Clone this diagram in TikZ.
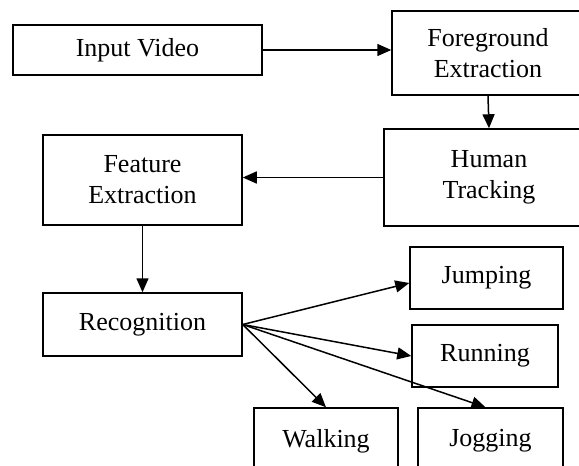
\documentclass[tikz,border=0pt]{standalone}
\usepackage{fontspec}
\setmainfont{Liberation Serif}
\usetikzlibrary{arrows.meta}

\begin{document}
\begin{tikzpicture}
[every node/.style={inner sep=0pt, align=center, font=\fontsize{26}{31}\selectfont},
 >={Triangle[length=14pt, width=12pt]}]
\useasboundingbox (0pt, 0pt) rectangle (579pt, -466pt);
\clip (0pt, 0pt) rectangle (579pt, -466pt);
\node (input) [rectangle, minimum width=249pt, minimum height=50pt, line width=1.5pt, draw=black] at (137.5pt, -50.0pt) {Input Video};
\node (fore) [rectangle, minimum width=192pt, minimum height=84pt, line width=1.5pt, draw=black] at (488.0pt, -53.0pt) {Foreground\\Extraction};
\node (human) [rectangle, minimum width=210pt, minimum height=97pt, line width=1.5pt, draw=black] at (489.0pt, -177.5pt) {Human\\Tracking};
\node (feature) [rectangle, minimum width=199pt, minimum height=90pt, line width=1.5pt, draw=black] at (142.5pt, -180.0pt) {Feature\\Extraction};
\node (recog) [rectangle, minimum width=199pt, minimum height=63pt, line width=1.5pt, draw=black] at (142.5pt, -324.5pt) {Recognition};
\node (jump) [rectangle, minimum width=153pt, minimum height=62pt, line width=1.5pt, draw=black] at (486.5pt, -278.0pt) {Jumping};
\node (run) [rectangle, minimum width=146pt, minimum height=62pt, line width=1.5pt, draw=black] at (485.0pt, -356.0pt) {Running};
\node (walk) [rectangle, minimum width=144pt, minimum height=66pt, line width=1.5pt, draw=black] at (326.0pt, -441.0pt) {Walking};
\node (jog) [rectangle, minimum width=145pt, minimum height=66pt, line width=1.5pt, draw=black] at (490.5pt, -441.0pt) {Jogging};
\draw [line width=1.5pt, ->, color=black] (input.east) to (input.east -| fore.west);
\draw [line width=1.5pt, ->, color=black] (fore.south) to (human.north);
\draw [line width=1.5pt, ->, color=black] (human.west) to (human.west -| feature.east);
\draw [line width=1.5pt, ->, color=black] (feature) to (recog);
\draw [line width=1.5pt, ->, color=black] (recog.east) to ([yshift=-5pt]jump.west);
\draw [line width=1.5pt, ->, color=black] (recog.east) to (run.west);
\draw [line width=1.5pt, ->, color=black] (recog.east) to (walk.north);
\draw [line width=1.5pt, ->, color=black] (recog.east) to ([xshift=-5pt]jog.north);
\end{tikzpicture}
\end{document}
